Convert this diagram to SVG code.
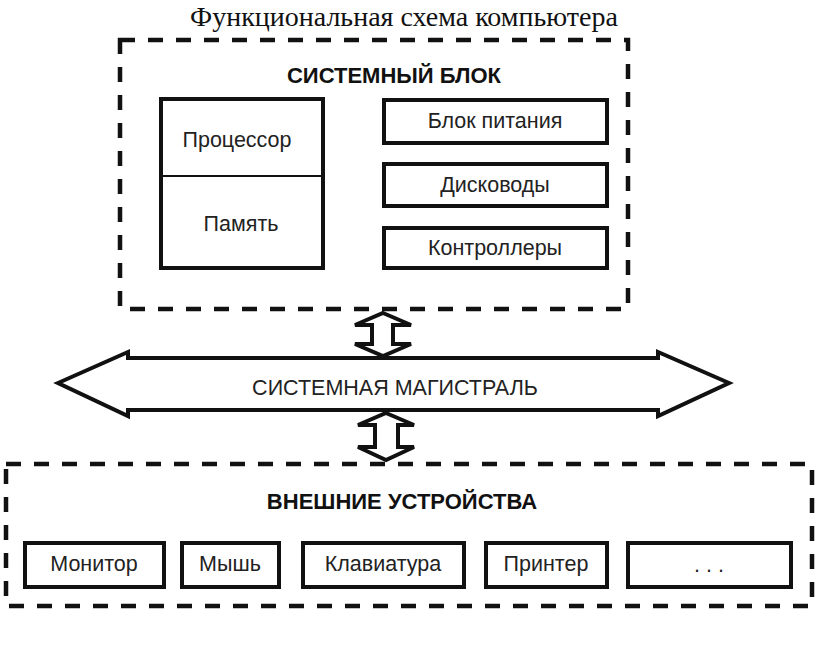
<svg xmlns="http://www.w3.org/2000/svg" width="816" height="653" viewBox="0 0 816 653">
<style>
.dash{fill:none;stroke:#111;stroke-width:4.5;stroke-dasharray:15 13}
.box{fill:#fff;stroke:#111;stroke-width:4}
.t{font-family:"Liberation Sans",Arial,sans-serif;font-size:21.5px;fill:#222;text-anchor:middle}
.h{font-family:"Liberation Sans",Arial,sans-serif;font-size:22px;font-weight:bold;fill:#111;text-anchor:middle}
.arr{fill:#fff;stroke:#111;stroke-width:4;stroke-linejoin:miter}
</style>
<rect width="816" height="653" fill="#fff"/>
<text x="404" y="26" font-family="'Liberation Serif','Times New Roman',serif" font-size="28" fill="#111" text-anchor="middle">Функциональная схема компьютера</text>

<g id="system-unit">
<rect class="dash" x="120" y="40" width="508" height="269"/>
<text class="h" x="394" y="83">СИСТЕМНЫЙ БЛОК</text>
</g>
<g id="cpu-memory">
<rect class="box" x="161" y="99" width="162" height="169"/>
<line x1="161" y1="176" x2="323" y2="176" stroke="#111" stroke-width="2"/>
<text class="t" x="237" y="147">Процессор</text>
<text class="t" x="241" y="231">Память</text>
</g>
<g id="power">
<rect class="box" x="384" y="100" width="223" height="43"/>
<text class="t" x="495" y="128">Блок питания</text>
</g>
<g id="drives">
<rect class="box" x="384" y="164" width="223" height="42"/>
<text class="t" x="495" y="192">Дисководы</text>
</g>
<g id="controllers">
<rect class="box" x="384" y="228" width="223" height="40"/>
<text class="t" x="495" y="255">Контроллеры</text>
</g>

<g id="connectors">
<path class="arr" d="M383 313 L411 325 L393 325 L393 344 L411 344 L383 356 L355 344 L372 344 L372 325 L355 325 Z"/>
<path class="arr" d="M386 413 L414 425 L398 425 L398 447 L414 447 L386 460 L358 447 L375 447 L375 425 L358 425 Z"/>
</g>

<g id="bus">
<path class="arr" d="M58 383 L128 352 L128 358 L658 358 L658 352 L729 383 L658 416 L658 410 L128 410 L128 416 Z"/>
<text class="t" x="395" y="395" font-size="22">СИСТЕМНАЯ МАГИСТРАЛЬ</text>
</g>

<g id="external">
<rect class="dash" x="6" y="464" width="806" height="142"/>
<text class="h" x="402" y="509">ВНЕШНИЕ УСТРОЙСТВА</text>
</g>
<g id="monitor">
<rect class="box" x="25" y="543" width="139" height="44"/>
<text class="t" x="94" y="571">Монитор</text>
</g>
<g id="mouse">
<rect class="box" x="182" y="543" width="97" height="44"/>
<text class="t" x="230" y="571">Мышь</text>
</g>
<g id="keyboard">
<rect class="box" x="303" y="543" width="161" height="44"/>
<text class="t" x="383" y="571">Клавиатура</text>
</g>
<g id="printer">
<rect class="box" x="486" y="543" width="121" height="44"/>
<text class="t" x="546" y="571">Принтер</text>
</g>
<g id="more">
<rect class="box" x="628" y="543" width="163" height="44"/>
<text class="t" x="709" y="572" font-size="16" fill="#555">. . .</text>
</g>
</svg>
